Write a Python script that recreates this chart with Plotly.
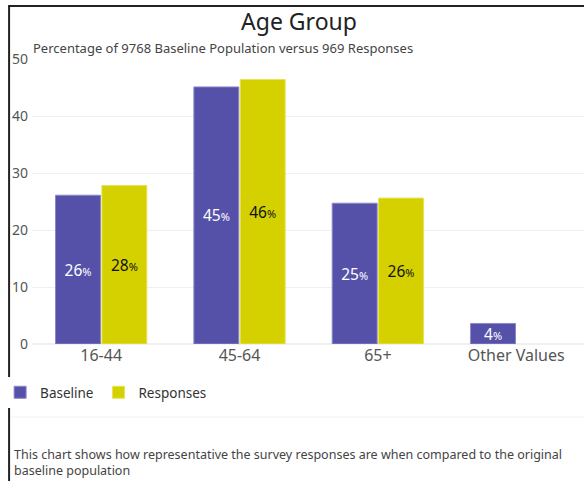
import plotly.graph_objects as go

categories = ["16-44", "45-64", "65+", "Other Values"]
baseline = [26.1, 45.1, 24.7, 3.6]
responses = [27.8, 46.4, 25.6, None]
y_ticks = [0, 10, 20, 30, 40, 50]

title_text = "Age Group"
subtitle_text = "Percentage of 9768 Baseline Population versus 969 Responses"
footer_text = ("This chart shows how representative the survey responses are when compared to the original<br>"
               "baseline population")

FONT = "Noto Sans"
W, H = 584, 481
L, R, T, B = 30, 0, 59, 137
pw, ph = W - L - R, H - T - B

def px_x(p):
    return (p - L) / pw

def px_y(p):
    return (H - B - p) / ph

pct = "%{y:.0f}<span style='font-size:11px'>%</span>"

fig = go.Figure()
fig.add_trace(go.Bar(
    name="Baseline", x=categories, y=baseline,
    marker=dict(color="#5651A8", line=dict(color="#8C88C8", width=1)),
    texttemplate=pct, textposition="inside", insidetextanchor="middle",
    textangle=0, constraintext="none",
    textfont=dict(color="white", size=15.5, family=FONT),
    hoverinfo="skip",
))
fig.add_trace(go.Bar(
    name="Responses", x=categories, y=responses,
    marker=dict(color="#D5D100", line=dict(color="#E6E35A", width=1)),
    texttemplate=pct, textposition="inside", insidetextanchor="middle",
    textangle=0, constraintext="none",
    textfont=dict(color="#111111", size=15.5, family=FONT),
    hoverinfo="skip",
))

fig.update_layout(
    width=W, height=H,
    margin=dict(l=L, r=R, t=T, b=B, pad=0),
    paper_bgcolor="white", plot_bgcolor="white",
    font=dict(family=FONT, color="#555555"),
    barmode="group", bargap=0.33, bargroupgap=0.03,
    title=dict(text=title_text, x=0.512, xanchor="center", y=1 - 22 / H, yanchor="middle",
               font=dict(size=23, color="#222222", family=FONT)),
    showlegend=True,
    legend=dict(orientation="h", x=px_x(-2), xanchor="left", y=px_y(377), yanchor="top",
                font=dict(size=13.5, color="#333333", family=FONT),
                traceorder="normal", tracegroupgap=0,
                itemclick=False),
    xaxis=dict(type="category", range=[-0.5, 3.49], showgrid=False, showline=False,
               ticks="", tickfont=dict(size=16, color="#555555"), fixedrange=True),
    yaxis=dict(range=[0, 50], tickvals=y_ticks, showgrid=True, gridcolor="#F0F0F0", gridwidth=1,
               zeroline=True, zerolinecolor="#F0F0F0", showline=False, ticks="",
               ticklabelstandoff=3,
               tickfont=dict(size=14, color="#555555"), fixedrange=True),
    annotations=[
        dict(text=subtitle_text, xref="paper", yref="paper", x=px_x(29), y=px_y(48),
             xanchor="left", yanchor="middle", showarrow=False,
             font=dict(size=13, color="#444444", family=FONT)),
        dict(text=footer_text, xref="paper", yref="paper", x=px_x(10), y=px_y(444),
             xanchor="left", yanchor="top", showarrow=False, align="left",
             font=dict(size=12.5, color="#444444", family=FONT)),
    ],
    shapes=[
        dict(type="line", xref="paper", yref="paper", x0=px_x(7), x1=px_x(7), y0=px_y(6), y1=px_y(H + 5),
             line=dict(color="#222222", width=2)),
        dict(type="line", xref="paper", yref="paper", x0=px_x(6), x1=px_x(W + 5), y0=px_y(6), y1=px_y(6),
             line=dict(color="#222222", width=2)),
        dict(type="line", xref="paper", yref="paper", x0=px_x(9), x1=px_x(W + 5), y0=px_y(417), y1=px_y(417),
             line=dict(color="#F0F0F0", width=1)),
    ],
)

fig.write_html("out.html")
